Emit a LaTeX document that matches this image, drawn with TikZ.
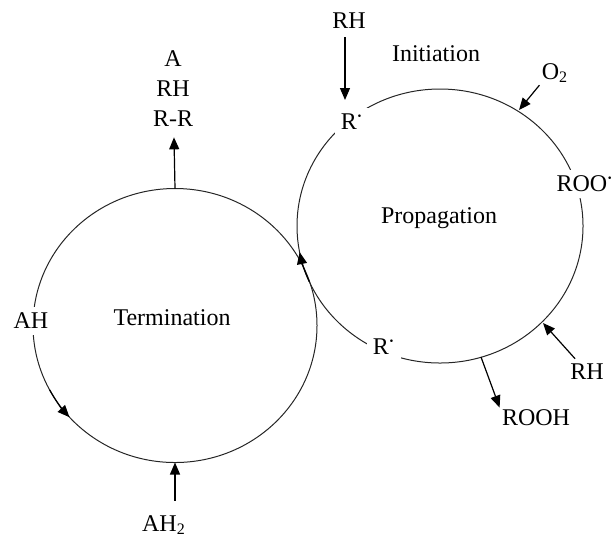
\documentclass[tikz,border=0pt]{standalone}
\usepackage{fontspec}
\setmainfont{Liberation Serif}
\usetikzlibrary{arrows.meta}

\begin{document}
\begin{tikzpicture}
  [x=0.5pt, y=-0.5pt,
   every node/.style={font=\fontsize{12}{15}\selectfont, inner sep=1pt},
   cycle/.style={line width=0.5pt, black!85},
   gap/.style={fill=white, inner sep=3pt},
   arr/.style={line width=0.6pt, -{Triangle[length=6pt, width=5pt]}}]
  \useasboundingbox (0,0) rectangle (613,537);
  \coordinate (term) at (175,325.5);
  \coordinate (prop) at (440,226);
  \draw[cycle] (term) ellipse [x radius=142, y radius=137];
  \draw[cycle] (prop) ellipse [x radius=143, y radius=137];
  \draw[arr] (prop) ++(156:143 and 137) arc [start angle=156, end angle=169, x radius=143, y radius=137];
  \draw[arr] (term) ++(152:142 and 137) arc [start angle=152, end angle=138, x radius=142, y radius=137];

  \node[gap] (rtop) at (352,122) {R\textsuperscript{\textbf{·}}};
  \node[gap] (roo) at (585,184) {ROO\textsuperscript{\textbf{·}}};
  \node[gap] (rbot) at (384,347) {R\textsuperscript{\textbf{·}}};
  \node[gap] (ah) at (31,321) {AH};
  \node (init) at (436,54) {Initiation};
  \node (propl) at (439,218) {Propagation};
  \node (terml) at (172,318) {Termination};
  \node (rhtop) at (349,21) {RH};
  \node (o2) at (555,73) {O\textsubscript{2}};
  \node (rhr) at (587,372) {RH};
  \node (rooh) at (536,418) {ROOH};
  \node (ah2) at (164,525) {AH\textsubscript{2}};
  \node[align=center] (prod) at (173,89) {A\\RH\\R-R};

  \coordinate (rin) at (345,100);
  \coordinate (o2in) at (519,110);
  \coordinate (rhin) at (543,323);
  \coordinate (roohout) at (481,357);
  \coordinate (termtop) at (175,188.5);
  \coordinate (termbot) at (175,462.5);

  \draw[arr, shorten <=3pt] (rhtop.south -| rin) -- (rin);
  \draw[arr] (o2.south west) -- (o2in);
  \draw[arr, shorten <=2pt] (rhr) -- (rhin);
  \draw[arr] (roohout) -- (rooh.north west);
  \draw[arr, shorten >=4pt] (termtop) -- (prod);
  \draw[arr, shorten <=6pt] (ah2.north -| termbot) -- (termbot);
\end{tikzpicture}
\end{document}
